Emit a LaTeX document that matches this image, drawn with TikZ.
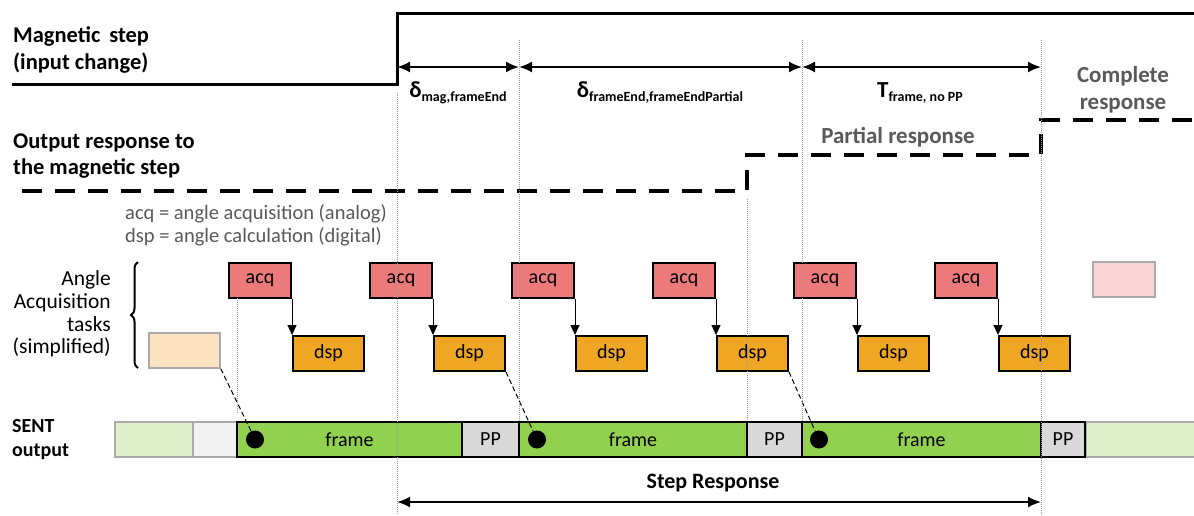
\documentclass[tikz,border=0pt]{standalone}
\usepackage{fontspec}
\setmainfont{Carlito}
\usetikzlibrary{arrows.meta,decorations.pathreplacing}
\definecolor{acqc}{RGB}{236,122,123}
\definecolor{dspc}{RGB}{238,166,35}
\definecolor{frmc}{RGB}{146,208,80}
\definecolor{ppc}{RGB}{217,217,217}
\definecolor{lgreen}{RGB}{222,240,203}
\definecolor{lgray}{RGB}{242,242,242}
\definecolor{lbeige}{RGB}{251,227,194}
\definecolor{lpink}{RGB}{249,214,214}
\definecolor{txtgray}{RGB}{89,89,89}
\definecolor{fadeborder}{RGB}{170,170,170}
\newcommand{\fs}[1]{\fontsize{#1}{#1}\selectfont}
\newcommand{\fsb}[2]{\fontsize{#1}{#2}\selectfont}
\tikzset{
  acqbox/.style={draw=black,line width=2pt,fill=acqc,minimum width=62pt,minimum height=35pt,inner sep=0pt,font=\fs{20}},
  dspbox/.style={draw=black,line width=2pt,fill=dspc,minimum width=71pt,minimum height=35pt,inner sep=0pt,font=\fs{20}},
  fadebox/.style={draw=fadeborder,line width=1.5pt,minimum height=35pt,inner sep=0pt},
  frmbox/.style={draw=black,line width=2pt,fill=frmc,minimum height=35pt,inner sep=0pt,font=\fs{20}},
  ppbox/.style={draw=black,line width=2pt,fill=ppc,minimum height=35pt,inner sep=0pt,font=\fs{20}},
  dotmark/.style={circle,fill=black,minimum size=18pt,inner sep=0pt},
  vguide/.style={draw=gray!80,line width=0.8pt,dash pattern=on 1pt off 1pt},
  conn/.style={draw=black,line width=1pt,dash pattern=on 5pt off 3pt},
  taskarrow/.style={draw=black,line width=1pt,-{Triangle[length=10pt,width=9pt]}},
  dimarrow/.style={draw=black,line width=2pt,{Latex[length=13pt,width=11pt]}-{Latex[length=13pt,width=11pt]}},
  steparrow/.style={draw=black,line width=2pt,{Latex[length=13pt,width=11pt]}-{Latex[length=13pt,width=11pt]}},
  signal/.style={draw=black,line width=3pt},
  dsignal/.style={draw=black,line width=3.2pt,dash pattern=on 20pt off 13pt},
  boldlbl/.style={font=\fsb{22.5}{26.5}\bfseries,inner sep=0pt,align=left},
  graylbl/.style={font=\fsb{23}{27}\bfseries,text=txtgray,inner sep=0pt,align=center},
}
\begin{document}
\begin{tikzpicture}[x=1pt,y=-1pt]
\useasboundingbox (0,0) rectangle (1194,515);
% signals
\coordinate (ms0) at (12,84);
\coordinate (ms1) at (397,84);
\coordinate (ms2) at (397,13);
\coordinate (ms3) at (1198,13);
\draw[signal] (ms0) -- (ms1) -- (ms2) -- (ms3);
\coordinate (os0) at (22,191);
\coordinate (os1) at (747,191);
\coordinate (os2) at (747,155);
\coordinate (os3) at (1041,155);
\coordinate (os4) at (1041,120);
\coordinate (os5) at (1198,120);
\draw[dsignal] (os0) -- (os1) -- (os2) -- (os3) -- (os4) -- (os5);
% left labels
\node[boldlbl,anchor=west] (lmag) at (13,50) {Magnetic\, step\\(input change)};
\node[boldlbl,anchor=west] (lout) at (13,156) {Output response to\\the magnetic step};
\node[boldlbl,anchor=west,font=\fsb{20}{24}\bfseries] (lsent) at (12,440) {SENT\\output};
\node[font=\fsb{20.5}{23}\selectfont,text=txtgray,anchor=west,align=left,inner sep=0pt] (legend) at (125,225) {acq = angle acquisition (analog)\\dsp = angle calculation (digital)};
\node[font=\fsb{21.5}{22.7},anchor=east,align=right,inner sep=0pt] (lang) at (111,314) {Angle\\Acquisition\\tasks\\(simplified)};
\coordinate (br0) at (138,368);
\coordinate (br1) at (138,262);
\draw[line width=2pt,decorate,decoration={brace,amplitude=7pt}] (br0) -- (br1);
% dimension arrows
\coordinate (d0) at (397,67);
\coordinate (d1) at (519,67);
\coordinate (d2) at (802,67);
\coordinate (d3) at (1041,67);
\draw[dimarrow] (d0) -- (d1);
\draw[dimarrow] (d1) -- (d2);
\draw[dimarrow] (d2) -- (d3);
\node[inner sep=0pt,font=\bfseries] (lab1) at (458,93) {{\fs{23}δ}\raisebox{-4pt}{\fs{14}mag,frameEnd}};
\node[inner sep=0pt,font=\bfseries] (lab2) at (660,93) {{\fs{23}δ}\raisebox{-4pt}{\fs{14}frameEnd,frameEndPartial}};
\node[inner sep=0pt,font=\bfseries] (lab3) at (920,93) {{\fs{23}T}\raisebox{-4pt}{\fs{14}frame, no PP}};
\node[graylbl] (lcomp) at (1123,90) {Complete\\response};
\node[graylbl] (lpart) at (898,137) {Partial response};
% tasks
\node[fadebox,fill=lbeige,minimum width=71pt] (bg0) at (184.5,350.5) {};
\node[fadebox,fill=lpink,minimum width=62pt] (ap6) at (1124,279.5) {};
\foreach \i/\x in {1/228,2/369,3/511,4/652,5/793,6/934}{
  \node[acqbox,anchor=north west] (a\i) at (\x,262) {acq};
}
\foreach \i in {1,...,6}{
  \node[dspbox,anchor=north west] (dsp\i) at ([yshift=-36pt]a\i.south east) {dsp};
  \draw[taskarrow] (a\i.south east) -- (dsp\i.north west);
}
% SENT row
\node[fadebox,fill=lgreen,minimum width=78pt] (lg1) at (154,439.5) {};
\node[fadebox,fill=lgray,minimum width=44pt] (gr1) at (215,439.5) {};
\node[fadebox,fill=lgreen,minimum width=115pt,anchor=west] (lg2) at (1085,439.5) {};
\node[frmbox,minimum width=225pt] (f1) at (349.5,439.5) {frame};
\node[ppbox,minimum width=57pt] (pp1) at (490.5,439.5) {PP};
\node[frmbox,minimum width=228pt] (f2) at (633,439.5) {frame};
\node[ppbox,minimum width=55pt] (pp2) at (774.5,439.5) {PP};
\node[frmbox,minimum width=239pt] (f3) at (921.5,439.5) {frame};
\node[ppbox,minimum width=44pt] (pp3) at (1063,439.5) {PP};
\node[dotmark] (dot1) at (255,439.5) {};
\node[dotmark] (dot2) at (537,439.5) {};
\node[dotmark] (dot3) at (819,439.5) {};
\draw[conn] (bg0.south east) -- (dot1.115);
\draw[conn] (dsp2.south east) -- (dot2.115);
\draw[conn] (dsp4.south east) -- (dot3.115);
% step response
\coordinate (sr0) at (397,502);
\coordinate (sr1) at (1041,502);
\draw[steparrow] (sr0) -- (sr1);
\node[boldlbl,font=\fs{22}\bfseries] (lsr) at (713,483) {Step Response};
% guides
\coordinate (g1a) at (237,298); \coordinate (g1b) at (237,413);
\coordinate (g2a) at (397,93);  \coordinate (g2b) at (397,515);
\coordinate (g3a) at (519,40);  \coordinate (g3b) at (519,421);
\coordinate (g4a) at (747,199); \coordinate (g4b) at (747,421);
\coordinate (g5a) at (802,40);  \coordinate (g5b) at (802,421);
\coordinate (g6a) at (1041,40); \coordinate (g6b) at (1041,515);
\foreach \g in {1,...,6}{\draw[vguide] (g\g a) -- (g\g b);}
\end{tikzpicture}
\end{document}
